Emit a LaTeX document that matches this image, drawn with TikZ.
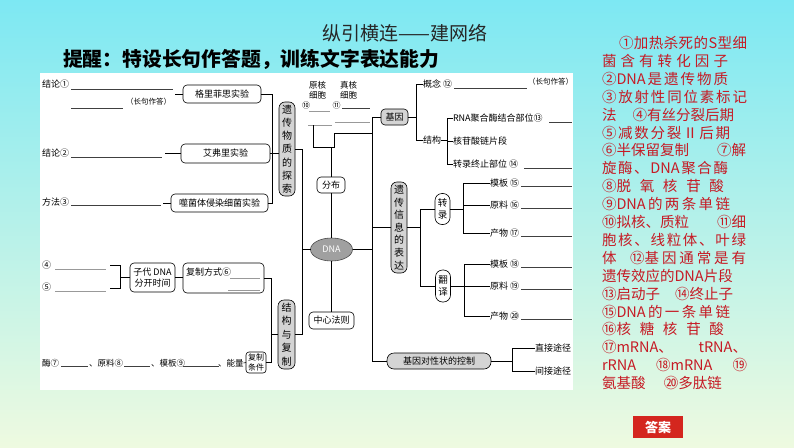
\documentclass[tikz,border=0pt]{standalone}
\usepackage{fontspec}
\setmainfont{Noto Sans CJK SC}
\usetikzlibrary{shapes.geometric}
\makeatletter
\def\spr@loop#1#2\spr@end{#1\ifx\relax#2\else\hfil\spr@loop#2\spr@end\fi}
\newcommand\spr[2]{\makebox[#1][s]{\spr@loop#2\relax\spr@end}}
\makeatother
\definecolor{bgtop}{RGB}{125,232,243}
\definecolor{bgmid}{RGB}{208,246,242}
\definecolor{bgbot}{RGB}{238,250,224}
\definecolor{boxgray}{RGB}{212,212,212}
\definecolor{dnagray}{RGB}{160,160,160}
\definecolor{redtxt}{RGB}{198,26,36}
\definecolor{btnred}{RGB}{212,38,30}
\begin{document}
\begin{tikzpicture}[x=1pt,y=-1pt,
  every node/.style={inner sep=0pt, outer sep=0pt},
  lab/.style={font=\fontsize{9}{10}\selectfont, text=black, anchor=west},
  small/.style={font=\fontsize{7.5}{8}\selectfont, text=black, anchor=west},
  rbox/.style={draw=black, line width=0.6pt, rounded corners=4pt, fill=white, font=\fontsize{9}{11}\selectfont, align=center},
  gbox/.style={rbox, fill=boxgray},
  vbox/.style={gbox, rounded corners=6pt, minimum width=16pt},
  ln/.style={line width=0.6pt, draw=black},
  blank/.style={line width=0.6pt, draw=black!75},
  gblank/.style={line width=0.6pt, draw=black!40},
  redl/.style={anchor=west, text=redtxt, font=\fontsize{14.5}{16}\selectfont}
]
\useasboundingbox (0,0) rectangle (794,447);
\shade[top color=bgtop, middle color=bgmid, bottom color=bgbot] (0,0) rectangle (794,447);
\fill[white] (40,73) rectangle (573,390);

% titles
\node[font=\fontsize{19}{20}\selectfont, text=black!85] (title) at (405,33) {纵引横连——建网络};
\node[font=\bfseries\fontsize{19.8}{21}\selectfont, text=black, anchor=west] (tip) at (63,59) {提醒：特设长句作答题，训练文字表达能力};

% ---------- left upper ----------
\node[lab] (jl1) at (42,84) {结论①};
\draw[blank] (71,89) -- (173,89);
\draw[blank] (71,108) -- (123,108);
\node[small] (cj1) at (126,102) {（长句作答）};
\node[rbox, minimum width=78pt, minimum height=18pt] (glfs) at (222,94) {格里菲思实验};
\coordinate (c1) at (175,94);
\draw[ln] (c1) -- (glfs.west);

\node[lab] (jl2) at (42,153.5) {结论②};
\draw[blank] (71,157) -- (162,157);
\node[rbox, minimum width=89pt, minimum height=19pt] (afl) at (225.5,153.5) {艾弗里实验};
\coordinate (c2) at (165,153.5);
\draw[ln] (c2) -- (afl.west);

\node[lab] (ff3) at (42,202) {方法③};
\draw[blank] (71,205) -- (161,205);
\node[rbox, minimum width=97pt, minimum height=18pt] (sjt) at (219.5,203) {噬菌体侵染细菌实验};
\coordinate (c3) at (163,203);
\draw[ln] (c3) -- (sjt.west);

\node[vbox, minimum height=94pt, font=\fontsize{10}{13.2}\selectfont] (tansuo) at (287,149) {遗\\传\\物\\质\\的\\探\\索};
\coordinate (lt2) at (272,0);
\draw[ln] (glfs.east) -- (glfs.east -| lt2) -- (sjt.east -| lt2) -- (sjt.east);
\draw[ln] (afl.east) -- (afl.east -| tansuo.west);

% ---------- left lower ----------
\node[lab] (n4) at (42,265) {④};
\node[lab] (n5) at (42,287) {⑤};
\draw[gblank] (55,269) -- (106,269);
\draw[gblank] (55,291) -- (106,291);
\node[rbox, minimum width=45pt, minimum height=29pt, font=\fontsize{9}{11.5}\selectfont] (zidai) at (152.5,277.5) {子代 DNA\\分开时间};
\coordinate (bk) at (120,0);
\draw[ln] (110,265) -- (120,265) -- (120,288) -- (110,288);
\draw[ln] (zidai.west -| bk) -- (zidai.west);
\node[rbox, minimum width=81pt, minimum height=30pt] (fuzhi) at (223.5,278) {};
\node[lab] (fzfs) at (186,272) {复制方式⑥};
\draw[gblank] (230,278) -- (260,278);
\draw[gblank] (228,290) -- (260,290);
\draw[ln] (zidai.east) -- (zidai.east -| fuzhi.west);

\node[vbox, minimum height=69pt, minimum width=17pt, font=\fontsize{10}{13.4}\selectfont] (jiegou) at (286.5,334.5) {结\\构\\与\\复\\制};
\node[rbox, rounded corners=3pt, minimum width=20pt, minimum height=21pt, font=\fontsize{8}{9.5}\selectfont] (tj) at (256,362.5) {复制\\条件};
\coordinate (ft) at (271,0);
\draw[ln] (fuzhi.east) -- (fuzhi.east -| ft) |- (tj.east);
\draw[ln] (jiegou.west -| ft) -- (jiegou.west);

\node[lab, font=\fontsize{8.5}{9}\selectfont] (mei) at (42,363) {酶⑦};
\draw[blank] (61,366) -- (88,366);
\node[lab, font=\fontsize{8.5}{9}\selectfont] (yl) at (89,363) {、原料⑧};
\draw[blank] (124,366) -- (150,366);
\node[lab, font=\fontsize{8.5}{9}\selectfont] (mb) at (151,363) {、模板⑨};
\draw[blank] (183,366) -- (219,366);
\node[lab, font=\fontsize{8.5}{9}\selectfont] (nl) at (218,363) {、能量};
\draw[ln] (nl.east) -- (tj.west);

% ---------- centre ----------
\node[ellipse, draw=black!70, line width=0.6pt, fill=dnagray, minimum width=42pt, minimum height=23pt, text=white, font=\fontsize{9}{10}\selectfont] (dna) at (331.5,249.5) {DNA};
\node[rbox, minimum width=28pt, minimum height=16pt] (fenbu) at (331,185) {分布};
\node[rbox, minimum width=45pt, minimum height=17pt] (zxfz) at (331.5,320.5) {中心法则};
\coordinate (lt) at (302,0);
\draw[ln] (tansuo.east) -- (tansuo.east -| lt) |- (jiegou.east);
\draw[ln] (dna.west) -- (dna.west -| lt);
\draw[ln] (fenbu.south) -- (fenbu.south |- dna.north);
\draw[ln] (dna.south) -- (zxfz.north);

\node[font=\fontsize{8.5}{10}\selectfont, align=center] (yh) at (317.5,90) {原核\\细胞};
\node[font=\fontsize{8.5}{10}\selectfont, align=center] (zh) at (348.5,90) {真核\\细胞};
\node[font=\fontsize{8}{9}\selectfont] (n10) at (306,105) {⑩};
\node[font=\fontsize{8}{9}\selectfont] (n11) at (336.5,105) {⑪};
\draw[gblank] (309,111) -- (330,111);
\draw[blank] (342,108) -- (370,108);
\draw[gblank] (335,122) -- (370,122);
\draw[gblank] (308,125) -- (332,125);
\coordinate (tp) at (331,147);
\draw[ln] (313,125) -- (313,147) -- (334,147) -- (334,133) -- (372,133);
\draw[ln] (tp) -- (fenbu.north);

% ---------- right ----------
\coordinate (tk) at (372,0);
\node[gbox, minimum width=27pt, minimum height=16pt] (jiyin) at (394.5,117) {基因};
\node[vbox, minimum height=91pt, font=\fontsize{10}{12.6}\selectfont] (bd) at (399,227.5) {遗\\传\\信\\息\\的\\表\\达};
\node[gbox, rounded corners=7pt, minimum width=104pt, minimum height=16pt] (kz) at (439,361) {基因对性状的控制};
\draw[ln] (jiyin.west) -- (jiyin.west -| tk) |- (kz.west);
\draw[ln] (dna.east) -- (dna.east -| tk);
\draw[ln] (bd.west) -- (bd.west -| tk);

% gene
\coordinate (jb) at (416,0);
\node[lab] (gn) at (423,84) {概念 ⑫};
\draw[blank] (454,88) -- (527,88);
\node[small] (cj2) at (528,82) {（长句作答）};
\node[lab] (jg) at (423,140) {结构};
\draw[ln] (jiyin.east) -- (jiyin.east -| jb);
\draw[ln] (gn.west) -- (gn.west -| jb) -- (jg.west -| jb) -- (jg.west);
\coordinate (jb2) at (447,0);
\node[lab] (rna) at (453,118) {RNA聚合酶结合部位⑬};
\node[lab] (hgs) at (453,141) {核苷酸链片段};
\node[lab] (zz) at (453,164) {转录终止部位 ⑭};
\draw[blank] (549,122) -- (572,122);
\draw[blank] (524,168) -- (572,168);
\draw[ln] (jg.east) -- (jg.east -| jb2);
\draw[ln] (rna.west) -- (rna.west -| jb2) -- (zz.west -| jb2) -- (zz.west);
\draw[ln] (hgs.west) -- (hgs.west -| jb2);

% expression
\coordinate (bb) at (420,0);
\node[rbox, rounded corners=7pt, minimum width=15pt, minimum height=31pt, font=\fontsize{9.5}{12}\selectfont] (zl) at (442.5,209) {转\\录};
\node[rbox, rounded corners=7pt, minimum width=15pt, minimum height=32pt, font=\fontsize{9.5}{12}\selectfont] (fy) at (443,286) {翻\\译};
\draw[ln] (bd.east) -- (bd.east -| bb);
\draw[ln] (zl.west) -- (zl.west -| bb) -- (fy.west -| bb) -- (fy.west);

\coordinate (zb) at (463,0);
\node[lab] (m15) at (490,183) {模板 ⑮};
\node[lab] (y16) at (490,205) {原料 ⑯};
\node[lab] (c17) at (490,233) {产物 ⑰};
\draw[ln] (zl.east) -- (zl.east -| zb);
\draw[ln] (m15.west) -- (m15.west -| zb) -- (c17.west -| zb) -- (c17.west);
\draw[ln] (y16.west) -- (y16.west -| zb);
\draw[blank] (521,186) -- (572,186);
\draw[blank] (521,208) -- (572,208);
\draw[blank] (521,236) -- (572,236);

\coordinate (fb) at (464,0);
\node[lab] (m18) at (490,264) {模板 ⑱};
\node[lab] (y19) at (490,286) {原料 ⑲};
\node[lab] (c20) at (490,316) {产物 ⑳};
\draw[ln] (fy.east) -- (fy.east -| fb);
\draw[ln] (m18.west) -- (m18.west -| fb) -- (c20.west -| fb) -- (c20.west);
\draw[ln] (y19.west) -- (y19.west -| fb);
\draw[blank] (521,267) -- (572,267);
\draw[blank] (521,289) -- (572,289);
\draw[blank] (521,319) -- (572,319);

% control
\coordinate (kb) at (512,0);
\node[lab] (zj) at (535,348) {直接途径};
\node[lab] (jj) at (535,371) {间接途径};
\draw[ln] (kz.east) -- (kz.east -| kb);
\draw[ln] (zj.west) -- (zj.west -| kb) -- (jj.west -| kb) -- (jj.west);

% ---------- answers ----------
\node[redl] (r1) at (619,43) {\spr{128pt}{①加热杀死的S型细}};
\node[redl] (r2) at (602,60.9) {\spr{126pt}{菌含有转化因子}};
\node[redl] (r3) at (602,78.8) {\spr{126pt}{{②DNA}是遗传物质}};
\node[redl] (r4) at (602,96.7) {\spr{145pt}{③放射性同位素标记}};
\node[redl] (r5) at (602,114.6) {\spr{132pt}{法{\hspace{12pt}}{④有丝分裂后期}}};
\node[redl] (r6) at (602,132.5) {\spr{128pt}{⑤减数分裂Ⅱ后期}};
\node[redl] (r7) at (602,150.4) {\spr{144pt}{{⑥半保留复制}{\hspace{10pt}}{⑦解}}};
\node[redl] (r8) at (602,168.3) {\spr{126pt}{旋酶、{DNA}聚合酶}};
\node[redl] (r9) at (602,186.2) {\spr{122pt}{{⑧脱}氧核苷酸}};
\node[redl] (r10) at (602,204.1) {\spr{128pt}{{⑨DNA}的两条单链}};
\node[redl] (r11) at (602,222) {\spr{144pt}{{⑩拟核、质粒}{\hspace{10pt}}{⑪细}}};
\node[redl] (r12) at (602,239.9) {\spr{144pt}{胞核、线粒体、叶绿}};
\node[redl] (r13) at (602,257.8) {\spr{144pt}{体{\hspace{8pt}}{⑫基}因通常是有}};
\node[redl] (r14) at (602,275.7) {\spr{131pt}{{遗传效应的DNA片段}}};
\node[redl] (r15) at (602,293.6) {\spr{131pt}{{⑬启动子}{\hspace{10pt}}{⑭终止子}}};
\node[redl] (r16) at (602,311.5) {\spr{128pt}{{⑮DNA}的一条单链}};
\node[redl] (r17) at (602,329.4) {\spr{122pt}{{⑯核}糖核苷酸}};
\node[redl] (r18) at (602,347.3) {\spr{145pt}{{⑰mRNA、}{\hspace{20pt}}{tRNA、}}};
\node[redl] (r19) at (602,365.2) {\spr{145pt}{{rRNA}{\hspace{8pt}}{⑱mRNA}{\hspace{8pt}}{⑲}}};
\node[redl] (r20) at (602,383.1) {\spr{120pt}{{氨基酸}{\hspace{8pt}}{⑳多肽链}}};

\node[fill=btnred, text=white, minimum width=50pt, minimum height=22pt, font=\bfseries\fontsize{13}{14}\selectfont] (ans) at (658,427) {答案};
\end{tikzpicture}
\end{document}
